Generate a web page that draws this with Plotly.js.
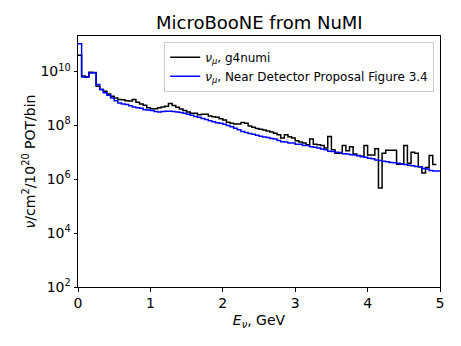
<!DOCTYPE html>
<html>
<head>
<meta charset="utf-8">
<script src="https://cdn.plot.ly/plotly-3.0.1.min.js"></script>
<style>html,body{margin:0;padding:0;background:#fff;}#chart{width:461px;height:346px;}</style>
</head>
<body>
<div id="chart"></div>
<script>
// Histogram bins: uniform width in GeV, starting at 0
const binWidth = 0.05;

// nu_mu flux, g4numi (nu / cm^2 / 1e20 POT / bin), bins 0.00 .. 4.95 GeV
const g4numi = [
  4.0e10, 6.8e9, 6.3e9, 9.5e9, 9.3e9, 2.85e9, 2.14e9, 1.86e9, 1.48e9, 1.20e9,
  1.05e9, 9.1e8, 8.9e8, 8.3e8, 8.1e8, 9.1e8, 7.2e8, 6.3e8, 5.6e8, 4.5e8,
  4.2e8, 4.2e8, 4.5e8, 4.8e8, 5.1e8, 6.5e8, 5.5e8, 4.7e8, 4.1e8, 3.55e8,
  3.16e8, 2.8e8, 2.8e8, 2.5e8, 2.6e8, 2.6e8, 2.24e8, 2.1e8, 2.0e8, 1.78e8,
  1.58e8, 1.32e8, 1.20e8, 1.12e8, 1.12e8, 1.29e8, 1.20e8, 9.5e7, 8.5e7, 7.6e7,
  7.2e7, 6.8e7, 6.2e7, 5.7e7, 5.1e7, 4.5e7, 3.4e7, 4.5e7, 3.8e7, 3.4e7,
  2.7e7, 2.4e7, 2.2e7, 1.9e7, 3.1e7, 2.0e7, 1.9e7, 1.8e7, 1.45e7, 3.9e7,
  1.26e7, 9.3e6, 9.3e6, 1.8e7, 1.15e7, 1.6e7, 8.6e6, 7.7e6, 7.1e6, 1.8e7,
  7.9e6, 7.9e6, 1.35e7, 4.7e5, 9.3e6, 1.2e7, 1.2e7, 1.2e7, 3.6e6, 3.6e6,
  1.8e7, 3.9e6, 1.0e7, 9.3e6, 2.9e6, 1.7e6, 2.75e6, 7.7e6, 3.5e6
];

// nu_mu flux, Near Detector Proposal Figure 3.4, bins 0.00 .. 5.00 GeV
const proposal = [
  1.07e11, 6.3e9, 6.3e9, 8.9e9, 9.1e9, 3.3e9, 2.14e9, 1.62e9, 1.32e9, 1.05e9,
  8.3e8, 6.8e8, 6.3e8, 6.0e8, 5.4e8, 4.8e8, 4.5e8, 4.3e8, 3.85e8, 3.7e8,
  3.55e8, 3.3e8, 3.16e8, 3.3e8, 3.35e8, 3.35e8, 3.3e8, 3.16e8, 3.0e8, 2.8e8,
  2.6e8, 2.4e8, 2.14e8, 2.0e8, 1.82e8, 1.66e8, 1.48e8, 1.38e8, 1.26e8, 1.20e8,
  1.10e8, 1.0e8, 8.9e7, 7.9e7, 6.9e7, 6.0e7, 5.4e7, 5.0e7, 4.7e7, 4.3e7,
  4.0e7, 3.7e7, 3.55e7, 3.3e7, 3.1e7, 2.75e7, 2.5e7, 2.4e7, 2.24e7, 2.2e7,
  2.0e7, 2.0e7, 1.8e7, 1.78e7, 1.62e7, 1.55e7, 1.45e7, 1.32e7, 1.26e7, 1.10e7,
  1.07e7, 1.0e7, 9.8e6, 8.9e6, 8.7e6, 8.1e6, 7.9e6, 7.4e6, 6.9e6, 6.6e6,
  6.0e6, 5.75e6, 5.25e6, 5.0e6, 4.7e6, 4.5e6, 4.2e6, 4.1e6, 3.9e6, 3.7e6,
  3.55e6, 3.3e6, 3.2e6, 3.0e6, 2.9e6, 2.5e6, 2.4e6, 2.1e6, 2.05e6, 2.05e6
];

const seriesNames = [
  '<i>ν</i><sub><i>μ</i></sub>, g4numi',
  '<i>ν</i><sub><i>μ</i></sub>, Near Detector Proposal Figure 3.4'
];
const yTickVals = [1e2, 1e4, 1e6, 1e8, 1e10];
const yTickText = ['10<sup>2</sup>', '10<sup>4</sup>', '10<sup>6</sup>', '10<sup>8</sup>', '10<sup>10</sup>'];
const xTickVals = [0, 1, 2, 3, 4, 5];

function stepTrace(vals, name, color) {
  const x = [], y = [];
  for (let i = 0; i < vals.length; i++) { x.push(i * binWidth); y.push(vals[i]); }
  x.push(vals.length * binWidth); y.push(vals[vals.length - 1]);
  return { x: x, y: y, name: name, type: 'scatter', mode: 'lines',
           line: { shape: 'hv', color: color, width: 1.5 } };
}

const font = 'DejaVu Sans, sans-serif';
const data = [
  stepTrace(g4numi, seriesNames[0], '#000000'),
  stepTrace(proposal, seriesNames[1], '#0000ff')
];

const layout = {
  width: 461, height: 346,
  margin: { l: 78, r: 21, t: 36, b: 59, pad: 0 },
  paper_bgcolor: '#fff', plot_bgcolor: '#fff',
  font: { family: font, size: 14, color: '#000' },
  title: { text: 'MicroBooNE from NuMI', font: { family: font, size: 18, color: '#000' },
           x: 0.5625, xanchor: 'center', y: 0.915, yanchor: 'bottom' },
  showlegend: true,
  legend: { x: 0.984, xanchor: 'right', y: 0.977, yanchor: 'top',
            font: { family: font, size: 12, color: '#000' },
            bordercolor: '#cccccc', borderwidth: 1, bgcolor: 'rgba(255,255,255,0.8)',
            tracegroupgap: 0 },
  xaxis: {
    range: [0, 5], tickvals: xTickVals, ticks: 'outside', ticklen: 3.5, tickwidth: 1,
    tickcolor: '#000', showline: true, mirror: true, linecolor: '#000', linewidth: 1,
    showgrid: false, zeroline: false, tickfont: { family: font, size: 14 },
    title: { text: '<i>E</i><sub><i>ν</i></sub>, GeV', font: { family: font, size: 14 }, standoff: 4 }
  },
  yaxis: {
    type: 'log', range: [2, 11.32], tickvals: yTickVals, ticktext: yTickText,
    ticks: 'outside', ticklen: 3.5, tickwidth: 1, tickcolor: '#000',
    showline: true, mirror: true, linecolor: '#000', linewidth: 1,
    showgrid: false, zeroline: false, tickfont: { family: font, size: 14 },
    title: { text: '<i>ν</i>/cm<sup>2</sup>/10<sup>20</sup> POT/bin', font: { family: font, size: 14 }, standoff: 1 }
  }
};

Plotly.newPlot('chart', data, layout, { displayModeBar: false, staticPlot: true });
</script>
</body>
</html>
